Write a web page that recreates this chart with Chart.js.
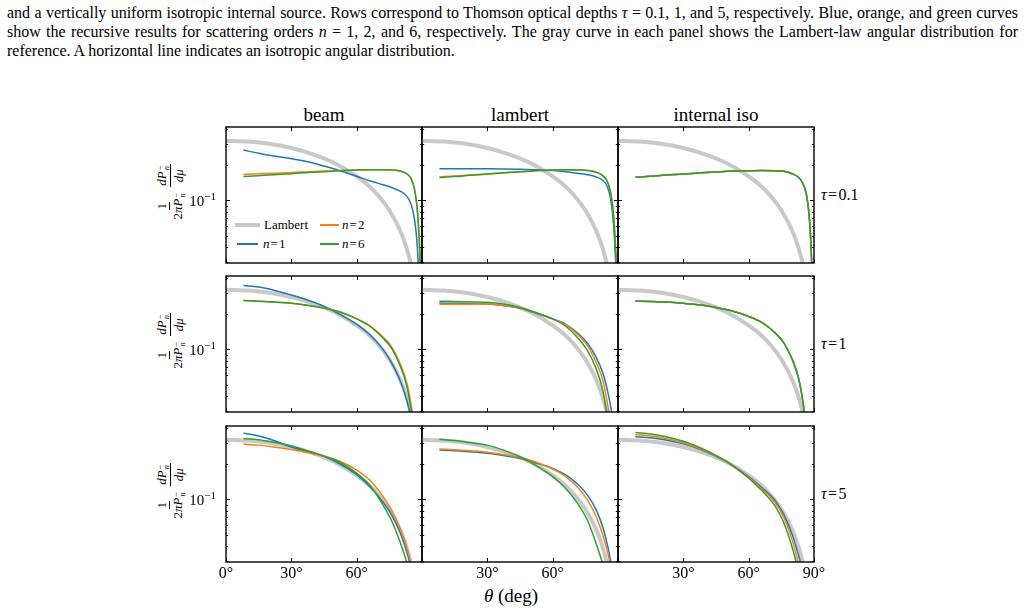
<!DOCTYPE html>
<html>
<head>
<meta charset="utf-8">
<script src="https://cdn.jsdelivr.net/npm/chart.js@4.4.0/dist/chart.umd.min.js"></script>
<style>
  body { margin:0; background:#fff; width:1025px; height:615px; position:relative; overflow:hidden;
         font-family:"Liberation Serif","DejaVu Serif",serif; color:#000; }
  .cap { position:absolute; left:7px; width:1011px; font-size:16px; line-height:19px; }
  .just { text-align:justify; text-align-last:justify; }
  canvas { position:absolute; }
  .t { position:absolute; white-space:nowrap; }
  .title { font-size:19px; width:196px; text-align:center; line-height:19px; }
  .tau { font-size:16px; line-height:16px; }
  .ylab { position:absolute; width:78px; height:30px; transform:rotate(-90deg);
          display:flex; align-items:center; justify-content:center; gap:6px; font-size:13px; }
  .fr { display:inline-flex; flex-direction:column; align-items:center; line-height:13px; }
  .nu { border-bottom:1.8px solid #000; padding:0 1px 1px; }
  .de { padding-top:1px; }
  .ss { display:inline-flex; flex-direction:column; font-size:8.5px; line-height:6px; vertical-align:middle; margin-left:1px; }
  .sw { position:absolute; }
  .lt { position:absolute; font-size:13px; line-height:13px; white-space:nowrap; }
</style>
</head>
<body>

<div class="cap just" style="top:3px">and a vertically uniform isotropic internal source. Rows correspond to Thomson optical depths <i>τ</i> = 0.1, 1, and 5, respectively. Blue, orange, and green curves</div>
<div class="cap just" style="top:22px">show the recursive results for scattering orders <i>n</i> = 1, 2, and 6, respectively. The gray curve in each panel shows the Lambert-law angular distribution for</div>
<div class="cap" style="top:41px">reference. A horizontal line indicates an isotropic angular distribution.</div>

<div class="t title" style="left:226px;top:105px">beam</div>
<div class="t title" style="left:422px;top:105px">lambert</div>
<div class="t title" style="left:618px;top:105px">internal iso</div>

<div class="t tau" style="left:821px;top:187px"><i>τ</i>&#8202;=&#8202;0.1</div>
<div class="t tau" style="left:821px;top:336px"><i>τ</i>&#8202;=&#8202;1</div>
<div class="t tau" style="left:821px;top:486px"><i>τ</i>&#8202;=&#8202;5</div>

<div class="t" style="left:470px;top:586px;font-size:19px;line-height:19px;width:82px;text-align:center"><i>θ</i> (deg)</div>

<div id="ylabels"></div>

<!-- legend in the top-left panel -->
<div class="sw" style="left:235px;top:223px;width:25px;height:4px;background:#c8c8c8"></div>
<div class="lt" style="left:264px;top:218px">Lambert</div>
<div class="sw" style="left:320px;top:224px;width:19px;height:1.5px;background:#ff7f0e"></div>
<div class="lt" style="left:342px;top:218px"><i>n</i>&#8202;=&#8202;2</div>
<div class="sw" style="left:237px;top:243px;width:21px;height:1.5px;background:#1f77b4"></div>
<div class="lt" style="left:263px;top:237px"><i>n</i>&#8202;=&#8202;1</div>
<div class="sw" style="left:320px;top:243px;width:19px;height:1.5px;background:#2ca02c"></div>
<div class="lt" style="left:342px;top:237px"><i>n</i>&#8202;=&#8202;6</div>

<div id="panels"></div>

<script>
// polar angle grid (deg) for the recursive curves
const theta = [8, 15, 22, 30, 38, 45, 52, 60, 66, 72, 76, 80, 83, 85, 86.5, 87.5, 88.3, 89, 89.6];

// Lambert reference curve (gray)
const lambertTheta = [0, 10, 20, 30, 40, 50, 60, 65, 70, 75, 80, 83, 85, 86, 87];
const lambertCurve = [0.318, 0.313, 0.299, 0.276, 0.244, 0.205, 0.159, 0.135, 0.109, 0.082, 0.055, 0.039, 0.028, 0.022, 0.017];

// tau = 0.1
const beamTau01N1 = [0.265, 0.249, 0.236, 0.224, 0.210, 0.194, 0.178, 0.159, 0.146, 0.135, 0.128, 0.119, 0.108, 0.092, 0.070, 0.049, 0.029, 0.015, null];
const beamTau01N2 = [0.165, 0.167, 0.169, 0.171, 0.174, 0.176, 0.178, 0.180, 0.181, 0.181, 0.180, 0.176, 0.167, 0.152, 0.125, 0.095, 0.064, 0.036, 0.015];
const beamTau01N6 = [0.158, 0.161, 0.164, 0.167, 0.171, 0.174, 0.177, 0.180, 0.181, 0.181, 0.180, 0.176, 0.167, 0.152, 0.125, 0.095, 0.064, 0.036, 0.015];
const lambTau01N1 = [0.184, 0.184, 0.184, 0.184, 0.183, 0.182, 0.181, 0.178, 0.174, 0.168, 0.164, 0.157, 0.147, 0.131, 0.105, 0.077, 0.050, 0.028, 0.012];
const lambTau01N2 = [0.157, 0.160, 0.163, 0.166, 0.170, 0.174, 0.177, 0.180, 0.181, 0.180, 0.178, 0.172, 0.161, 0.145, 0.118, 0.090, 0.061, 0.034, 0.015];
const lambTau01N6 = [0.155, 0.158, 0.162, 0.166, 0.170, 0.174, 0.177, 0.180, 0.181, 0.180, 0.178, 0.172, 0.161, 0.145, 0.118, 0.090, 0.061, 0.034, 0.015];
const isoTau01N1  = [0.156, 0.159, 0.163, 0.166, 0.170, 0.173, 0.176, 0.177, 0.178, 0.177, 0.175, 0.167, 0.155, 0.137, 0.112, 0.083, 0.054, 0.027, 0.012];
const isoTau01N2  = [0.156, 0.159, 0.163, 0.166, 0.170, 0.173, 0.176, 0.177, 0.178, 0.177, 0.175, 0.167, 0.155, 0.137, 0.112, 0.083, 0.054, 0.027, 0.012];
const isoTau01N6  = [0.156, 0.159, 0.163, 0.166, 0.170, 0.173, 0.176, 0.177, 0.178, 0.177, 0.175, 0.167, 0.155, 0.137, 0.112, 0.083, 0.054, 0.027, 0.012];

// tau = 1
const beamTau1N1 = [0.345, 0.335, 0.315, 0.287, 0.258, 0.230, 0.198, 0.162, 0.133, 0.100, 0.077, 0.054, 0.037, 0.026, 0.018, null, null, null, null];
const beamTau1N2 = [0.257, 0.254, 0.250, 0.244, 0.234, 0.222, 0.207, 0.181, 0.158, 0.127, 0.105, 0.075, 0.052, 0.034, 0.022, null, null, null, null];
const beamTau1N6 = [0.257, 0.254, 0.250, 0.244, 0.234, 0.222, 0.207, 0.180, 0.156, 0.124, 0.102, 0.072, 0.049, 0.031, 0.020, null, null, null, null];
const lambTau1N1 = [0.245, 0.244, 0.243, 0.241, 0.233, 0.221, 0.202, 0.180, 0.162, 0.134, 0.112, 0.085, 0.063, 0.046, 0.034, 0.025, 0.017, null, null];
const lambTau1N2 = [0.239, 0.239, 0.240, 0.241, 0.233, 0.222, 0.203, 0.180, 0.160, 0.130, 0.107, 0.077, 0.055, 0.036, 0.024, 0.016, null, null, null];
const lambTau1N6 = [0.254, 0.253, 0.251, 0.249, 0.239, 0.225, 0.205, 0.180, 0.156, 0.122, 0.097, 0.068, 0.045, 0.027, 0.017, null, null, null, null];
const isoTau1N1  = [0.255, 0.253, 0.250, 0.244, 0.236, 0.225, 0.211, 0.189, 0.168, 0.138, 0.114, 0.082, 0.056, 0.035, 0.022, null, null, null, null];
const isoTau1N2  = [0.255, 0.253, 0.250, 0.244, 0.236, 0.225, 0.211, 0.189, 0.168, 0.138, 0.114, 0.082, 0.056, 0.035, 0.022, null, null, null, null];
const isoTau1N6  = [0.255, 0.253, 0.250, 0.244, 0.236, 0.225, 0.211, 0.189, 0.168, 0.138, 0.114, 0.082, 0.056, 0.035, 0.022, null, null, null, null];

// tau = 5
const beamTau5N1 = [0.360, 0.342, 0.313, 0.276, 0.250, 0.230, 0.200, 0.161, 0.128, 0.095, 0.074, 0.052, 0.036, 0.026, 0.018, null, null, null, null];
const beamTau5N2 = [0.292, 0.286, 0.276, 0.262, 0.247, 0.231, 0.210, 0.176, 0.145, 0.106, 0.081, 0.056, 0.039, 0.028, 0.019, null, null, null, null];
const beamTau5N6 = [0.326, 0.318, 0.302, 0.281, 0.254, 0.231, 0.206, 0.166, 0.131, 0.090, 0.066, 0.043, 0.029, 0.020, null, null, null, null, null];
const lambTau5N1 = [0.260, 0.256, 0.251, 0.244, 0.233, 0.221, 0.203, 0.182, 0.160, 0.131, 0.108, 0.081, 0.058, 0.042, 0.031, 0.024, null, null, null];
const lambTau5N2 = [0.265, 0.261, 0.256, 0.249, 0.237, 0.225, 0.207, 0.179, 0.155, 0.123, 0.098, 0.071, 0.050, 0.037, 0.027, 0.020, null, null, null];
const lambTau5N6 = [0.320, 0.313, 0.301, 0.286, 0.257, 0.228, 0.194, 0.155, 0.123, 0.089, 0.066, 0.042, 0.028, 0.019, null, null, null, null, null];
const isoTau5N1  = [0.337, 0.330, 0.316, 0.293, 0.262, 0.230, 0.196, 0.155, 0.125, 0.098, 0.075, 0.050, 0.033, 0.024, null, null, null, null, null];
const isoTau5N2  = [0.350, 0.342, 0.326, 0.300, 0.266, 0.232, 0.196, 0.153, 0.122, 0.094, 0.071, 0.045, 0.028, 0.020, null, null, null, null, null];
const isoTau5N6  = [0.365, 0.355, 0.337, 0.308, 0.271, 0.234, 0.196, 0.150, 0.118, 0.088, 0.064, 0.039, 0.024, null, null, null, null, null, null];

// ticks
const xTicks = [0, 30, 60, 90];
const xTickText = ['0°', '30°', '60°', '90°'];
const yMajor = [0.1];
const yMinor = [0.03, 0.04, 0.05, 0.06, 0.07, 0.08, 0.09, 0.2, 0.3, 0.4];

// layout
const colLeft = [226, 422, 618];
const rowTop = [127, 276, 426];
const PW = 196, PH = 136, PAD = 40;
const Y_MIN = 0.0294, Y_MAX = 0.415;
const xLabelsByCol = [[0, 1, 2], [1, 2], [1, 2, 3]];

const panels = [
  [beamTau01N1, beamTau01N2, beamTau01N6], [lambTau01N1, lambTau01N2, lambTau01N6], [isoTau01N1, isoTau01N2, isoTau01N6],
  [beamTau1N1,  beamTau1N2,  beamTau1N6],  [lambTau1N1,  lambTau1N2,  lambTau1N6],  [isoTau1N1,  isoTau1N2,  isoTau1N6],
  [beamTau5N1,  beamTau5N2,  beamTau5N6],  [lambTau5N1,  lambTau5N2,  lambTau5N6],  [isoTau5N1,  isoTau5N2,  isoTau5N6]
];

function pts(xs, ys) {
  const out = [];
  xs.forEach((x, i) => { if (ys[i] != null) out.push({x: x, y: ys[i]}); });
  return out;
}

// frame, inward ticks and tick labels, matplotlib style
const framePlugin = {
  id: 'frame',
  afterDatasetsDraw(chart, args, opts) {
    const ctx = chart.ctx, a = chart.chartArea;
    const xs = chart.scales.x, ys = chart.scales.y;
    ctx.save();
    ctx.strokeStyle = '#000';
    ctx.lineWidth = 1;
    function seg(x1, y1, x2, y2) { ctx.beginPath(); ctx.moveTo(x1, y1); ctx.lineTo(x2, y2); ctx.stroke(); }
    xTicks.forEach(v => {
      const px = Math.round(xs.getPixelForValue(v)) + 0.5;
      seg(px, a.bottom, px, a.bottom - 4);
      seg(px, a.top, px, a.top + 4);
    });
    yMajor.forEach(v => {
      const py = Math.round(ys.getPixelForValue(v)) + 0.5;
      seg(a.left, py, a.left + 4, py);
      seg(a.right, py, a.right - 4, py);
    });
    yMinor.forEach(v => {
      const py = Math.round(ys.getPixelForValue(v)) + 0.5;
      seg(a.left, py, a.left + 2.2, py);
      seg(a.right, py, a.right - 2.2, py);
    });
    ctx.lineWidth = 1.4;
    ctx.strokeRect(a.left, a.top, a.right - a.left, a.bottom - a.top);

    ctx.fillStyle = '#000';
    if (opts.xLabels) {
      ctx.font = '16px "Liberation Serif"';
      ctx.textAlign = 'center';
      ctx.textBaseline = 'alphabetic';
      opts.xLabels.forEach(i => {
        ctx.fillText(xTickText[i], xs.getPixelForValue(xTicks[i]), a.bottom + 16);
      });
    }
    if (opts.yLabel) {
      const py = ys.getPixelForValue(0.1);
      const right = a.left - 10;
      ctx.textAlign = 'left';
      ctx.textBaseline = 'alphabetic';
      ctx.font = '11px "Liberation Serif"';
      const w2 = ctx.measureText('\u22121').width;
      ctx.font = '15px "Liberation Serif"';
      const w1 = ctx.measureText('10').width;
      ctx.fillText('10', right - w2 - w1, py + 6);
      ctx.font = '11px "Liberation Serif"';
      ctx.fillText('\u22121', right - w2, py);
    }
    ctx.restore();
  }
};

const host = document.getElementById('panels');
const ylabHost = document.getElementById('ylabels');

panels.forEach((series, k) => {
  const row = Math.floor(k / 3), col = k % 3;
  const cv = document.createElement('canvas');
  cv.width = PW + 2 * PAD;
  cv.height = PH + 2 * PAD;
  cv.style.left = (colLeft[col] - PAD) + 'px';
  cv.style.top = (rowTop[row] - PAD) + 'px';
  host.appendChild(cv);

  const line = (data, color, width, order) => ({
    data: data, borderColor: color, borderWidth: width, pointRadius: 0,
    fill: false, cubicInterpolationMode: 'monotone', order: order, clip: 0
  });

  new Chart(cv, {
    type: 'line',
    data: {
      datasets: [
        line(pts(lambertTheta, lambertCurve), '#c8c8c8', 4, 3),
        line(pts(theta, series[0]), '#1f77b4', 1.5, 2),
        line(pts(theta, series[1]), '#ff7f0e', 1.5, 1),
        line(pts(theta, series[2]), '#2ca02c', 1.5, 0)
      ]
    },
    options: {
      responsive: false,
      animation: false,
      events: [],
      layout: { padding: PAD },
      scales: {
        x: { type: 'linear', min: 0, max: 90, display: false },
        y: { type: 'logarithmic', min: Y_MIN, max: Y_MAX, display: false }
      },
      plugins: {
        legend: { display: false },
        tooltip: { enabled: false },
        frame: {
          xLabels: row === 2 ? xLabelsByCol[col] : null,
          yLabel: col === 0
        }
      }
    },
    plugins: [framePlugin]
  });

  if (col === 0) {
    const d = document.createElement('div');
    d.className = 'ylab';
    const cy = rowTop[row] + PH / 2 - 3;
    d.style.left = (170 - 39) + 'px';
    d.style.top = (cy - 15) + 'px';
    d.innerHTML =
      '<span class="fr"><span class="nu">1</span><span class="de">2<i>πP</i><span class="ss"><span>\u2212</span><span><i>n</i></span></span></span></span>' +
      '<span class="fr"><span class="nu"><i>dP</i><span class="ss"><span>\u2212</span><span><i>n</i></span></span></span><span class="de"><i>dμ</i></span></span>';
    ylabHost.appendChild(d);
  }
});
</script>
</body>
</html>
